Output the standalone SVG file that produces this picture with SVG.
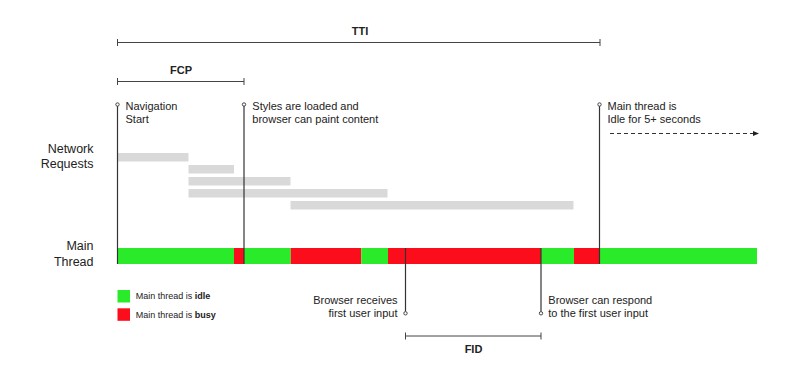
<svg xmlns="http://www.w3.org/2000/svg" width="800" height="374" viewBox="0 0 800 374">
<style>
text{font-family:"Liberation Sans",Arial,sans-serif;fill:#222}
.lbl{font-size:11px}
.axis{font-size:12.5px;text-anchor:end}
.hdr{font-size:11px;font-weight:bold;text-anchor:middle}
.leg{font-size:9px}
.ln{stroke:#333;stroke-width:1.2;fill:none}
.br{stroke:#444;stroke-width:1;fill:none}
.mk{fill:#fff;stroke:#333;stroke-width:0.9}
.req{fill:#d9d9d9}
.idle{fill:#2aeb2a}
.busy{fill:#fc0d1b}
</style>
<defs>
<marker id="ah" viewBox="0 0 6 6" refX="5" refY="3" markerWidth="6" markerHeight="6" orient="auto" markerUnits="userSpaceOnUse">
<path d="M0,0.5 L6,3 L0,5.5 Z" fill="#222"/>
</marker>
</defs>

<g id="tti">
<path class="br" d="M117.5,42.5 H600 M117.5,39 V46 M600,39 V46"/>
<text class="hdr" x="360" y="34.5">TTI</text>
</g>
<g id="fcp">
<path class="br" d="M117.5,81.5 H244 M117.5,78 V85 M244,78 V85"/>
<text class="hdr" x="181" y="73.5">FCP</text>
</g>
<g id="fid">
<path class="br" d="M405.5,336 H541 M405.5,332.5 V339.5 M541,332.5 V339.5"/>
<text class="hdr" x="473.5" y="353">FID</text>
</g>

<g id="labels">
<text class="axis" x="93.5" y="152.5">Network</text>
<text class="axis" x="93.5" y="168">Requests</text>
<text class="axis" x="93.5" y="250">Main</text>
<text class="axis" x="93.5" y="265.5">Thread</text>
</g>

<g id="network-requests">
<rect class="req" x="117.5" y="153" width="71" height="8.5"/>
<rect class="req" x="188.5" y="165" width="45.5" height="8.5"/>
<rect class="req" x="188.5" y="177" width="102" height="8.5"/>
<rect class="req" x="188.5" y="189" width="199" height="8.5"/>
<rect class="req" x="290.5" y="201" width="283" height="8.5"/>
</g>

<g id="main-thread">
<rect class="idle" x="117.5" y="248" width="116.5" height="16"/>
<rect class="busy" x="234" y="248" width="10" height="16"/>
<rect class="idle" x="244" y="248" width="46.7" height="16"/>
<rect class="busy" x="290.7" y="248" width="70.6" height="16"/>
<rect class="idle" x="361.3" y="248" width="26.7" height="16"/>
<rect class="busy" x="388" y="248" width="153" height="16"/>
<rect class="idle" x="541" y="248" width="33" height="16"/>
<rect class="busy" x="574" y="248" width="25.5" height="16"/>
<rect class="idle" x="599.5" y="248" width="157.5" height="16"/>
</g>

<g id="connectors">
<line class="ln" x1="117.5" y1="106" x2="117.5" y2="264"/>
<line class="ln" x1="244" y1="106" x2="244" y2="264"/>
<line class="ln" x1="599.5" y1="106" x2="599.5" y2="264"/>
<line class="ln" x1="405.5" y1="248" x2="405.5" y2="311.5"/>
<line class="ln" x1="541" y1="248" x2="541" y2="311.5"/>
<line x1="610" y1="133.5" x2="758" y2="133.5" stroke="#333" stroke-width="1" stroke-dasharray="4,3" marker-end="url(#ah)"/>
<circle class="mk" cx="117.5" cy="104.5" r="1.7"/>
<circle class="mk" cx="244" cy="104.5" r="1.7"/>
<circle class="mk" cx="599.5" cy="104.5" r="1.7"/>
<circle class="mk" cx="405.5" cy="313.3" r="1.7"/>
<circle class="mk" cx="541" cy="313.3" r="1.7"/>
</g>

<g id="navigation-start">
<text class="lbl" x="125.5" y="110">Navigation</text>
<text class="lbl" x="125.5" y="123">Start</text>
</g>
<g id="styles-loaded">
<text class="lbl" x="252.3" y="110">Styles are loaded and</text>
<text class="lbl" x="252.3" y="123">browser can paint content</text>
</g>
<g id="main-idle">
<text class="lbl" x="607.5" y="110">Main thread is</text>
<text class="lbl" x="607.5" y="123">Idle for 5+ seconds</text>
</g>
<g id="first-input">
<text class="lbl" x="397.5" y="303.5" text-anchor="end">Browser receives</text>
<text class="lbl" x="397.5" y="316.5" text-anchor="end">first user input</text>
</g>
<g id="can-respond">
<text class="lbl" x="548.3" y="303.5">Browser can respond</text>
<text class="lbl" x="548.3" y="316.5">to the first user input</text>
</g>

<g id="legend">
<rect class="idle" x="117.5" y="290" width="12.5" height="12.5"/>
<rect class="busy" x="117.5" y="308.3" width="12.5" height="12.5"/>
<text class="leg" x="135.7" y="299.3">Main thread is <tspan font-weight="bold">idle</tspan></text>
<text class="leg" x="135.7" y="317.7">Main thread is <tspan font-weight="bold">busy</tspan></text>
</g>
</svg>
